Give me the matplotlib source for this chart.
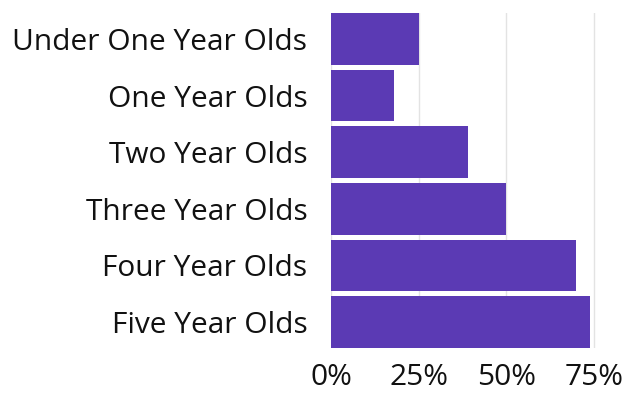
import matplotlib
matplotlib.use('Agg')
import matplotlib.pyplot as plt
from matplotlib.ticker import FuncFormatter

# Data
categories = ['Under One Year Olds', 'One Year Olds', 'Two Year Olds',
              'Three Year Olds', 'Four Year Olds', 'Five Year Olds']
values = [25, 18, 39, 50, 70, 74]
xticks = [0, 25, 50, 75]

plt.rcParams['font.family'] = ['Open Sans', 'DejaVu Sans']

fig = plt.figure(figsize=(6.37, 3.95), dpi=100)
# plot area runs a few pixels past the 75% line so the last gridline shows
ax = fig.add_axes([331/637, 1 - 348/395, (600 - 331)/637, (348 - 13)/395])

ypos = list(range(len(categories)))[::-1]
ax.barh(ypos, values, height=0.91, color='#5B3AB4', zorder=3)

ax.set_xlim(0, 75 * (600 - 331) / (594 - 331))
ax.set_ylim(-0.46, 5.46)
ax.set_yticks(ypos)
ax.set_yticklabels(categories, fontsize=21.5, color='#111111')
ax.set_xticks(xticks)
ax.xaxis.set_major_formatter(FuncFormatter(lambda v, p: f'{int(v)}%'))
ax.tick_params(axis='x', labelsize=21.5, colors='#111111', length=0, pad=11)
ax.tick_params(axis='y', length=0, pad=17)
ax.grid(axis='x', color='#e3e3e3', linewidth=1, zorder=0)
for s in ax.spines.values():
    s.set_visible(False)

fig.savefig('out.png', dpi=100)
